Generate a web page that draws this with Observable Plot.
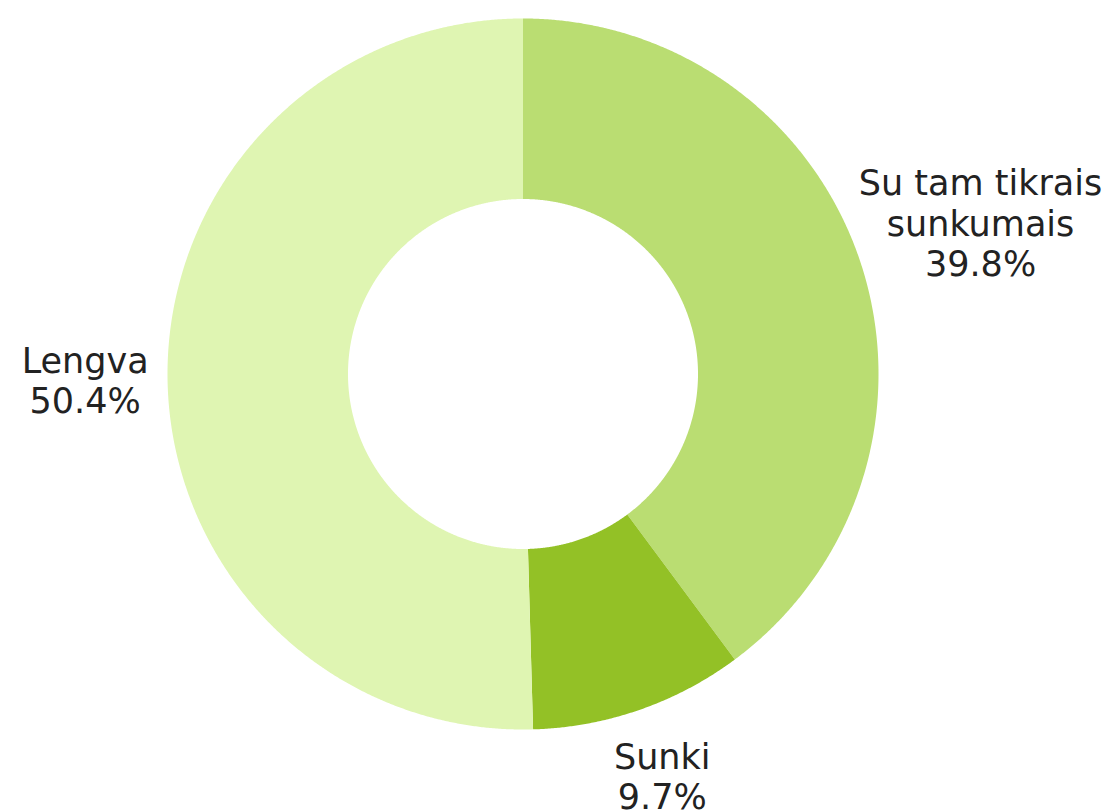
<!DOCTYPE html>
<html>
<head>
<meta charset="utf-8">
<script src="https://cdn.jsdelivr.net/npm/d3@7"></script>
<script src="https://cdn.jsdelivr.net/npm/@observablehq/plot@0.6"></script>
<style>
  html, body { margin: 0; padding: 0; background: #ffffff; }
  #chart svg { display: block; }
</style>
</head>
<body>
<div id="chart"></div>
<script>
// ---- data ----
const categories = ["Su tam tikrais sunkumais", "Sunki", "Lengva"];
const labelNames = ["Su tam tikrais\nsunkumais", "Sunki", "Lengva"];
const values = [39.8, 9.7, 50.4];
const colors = ["#badd72", "#93c126", "#dff5b2"];

// ---- layout ----
const W = 1110, H = 812;
const mL = 167, mR = 232, mT = 18, mB = 83;
const R = (W - mL - mR) / 2;          // outer radius in px
const innerRatio = 175 / R;
const fontSize = 35, lineHeight = 1.15, labelPad = 31;
const fontFamily = "'DejaVu Sans', Verdana, sans-serif";

const data = categories.map((c, i) => ({key: c, name: labelNames[i], value: values[i]}));
const arcs = d3.pie().sort(null).value(d => d.value).startAngle(0).endAngle(2 * Math.PI)(data);

// polygon outline of each donut slice (angles clockwise from 12 o'clock)
const step = Math.PI / 720;
const points = [];
for (const a of arcs) {
  const n = Math.max(2, Math.ceil((a.endAngle - a.startAngle) / step));
  for (let k = 0; k <= n; k++) {
    const t = a.startAngle + (a.endAngle - a.startAngle) * k / n;
    points.push({key: a.data.key, x: Math.sin(t), y: Math.cos(t)});
  }
  for (let k = n; k >= 0; k--) {
    const t = a.startAngle + (a.endAngle - a.startAngle) * k / n;
    points.push({key: a.data.key, x: innerRatio * Math.sin(t), y: innerRatio * Math.cos(t)});
  }
}

// label positions: along each slice's mid-angle, pushed out by the label's own extent
const ctx = document.createElement("canvas").getContext("2d");
ctx.font = `${fontSize}px ${fontFamily}`;
const labels = arcs.map(a => {
  const mid = (a.startAngle + a.endAngle) / 2;
  const text = `${a.data.name}\n${a.data.value.toFixed(1)}%`;
  const lines = text.split("\n");
  const hw = d3.max(lines, l => ctx.measureText(l).width) / 2;
  const hh = lines.length * fontSize * lineHeight / 2;
  const dx = Math.sin(mid), dy = Math.cos(mid);
  const ext = Math.hypot(0.81 * hw * dx, 0.97 * hh * dy);
  const r = (R + labelPad + ext) / R;
  return {text, x: r * dx, y: r * dy};
});

const chart = Plot.plot({
  width: W,
  height: H,
  marginLeft: mL,
  marginRight: mR,
  marginTop: mT,
  marginBottom: mB,
  x: {domain: [-1, 1], axis: null},
  y: {domain: [-1, 1], axis: null},
  color: {domain: categories, range: colors},
  style: {background: "#ffffff", overflow: "visible"},
  marks: [
    Plot.line(points, {
      x: "x", y: "y", z: "key", fill: "key",
      stroke: "none", curve: "linear-closed"
    }),
    Plot.text(labels, {
      x: "x", y: "y", text: "text",
      textAnchor: "middle", lineAnchor: "middle",
      lineHeight: lineHeight,
      fontSize: fontSize, fontFamily: fontFamily,
      fill: "#222222"
    })
  ]
});
document.getElementById("chart").appendChild(chart);
</script>
</body>
</html>
